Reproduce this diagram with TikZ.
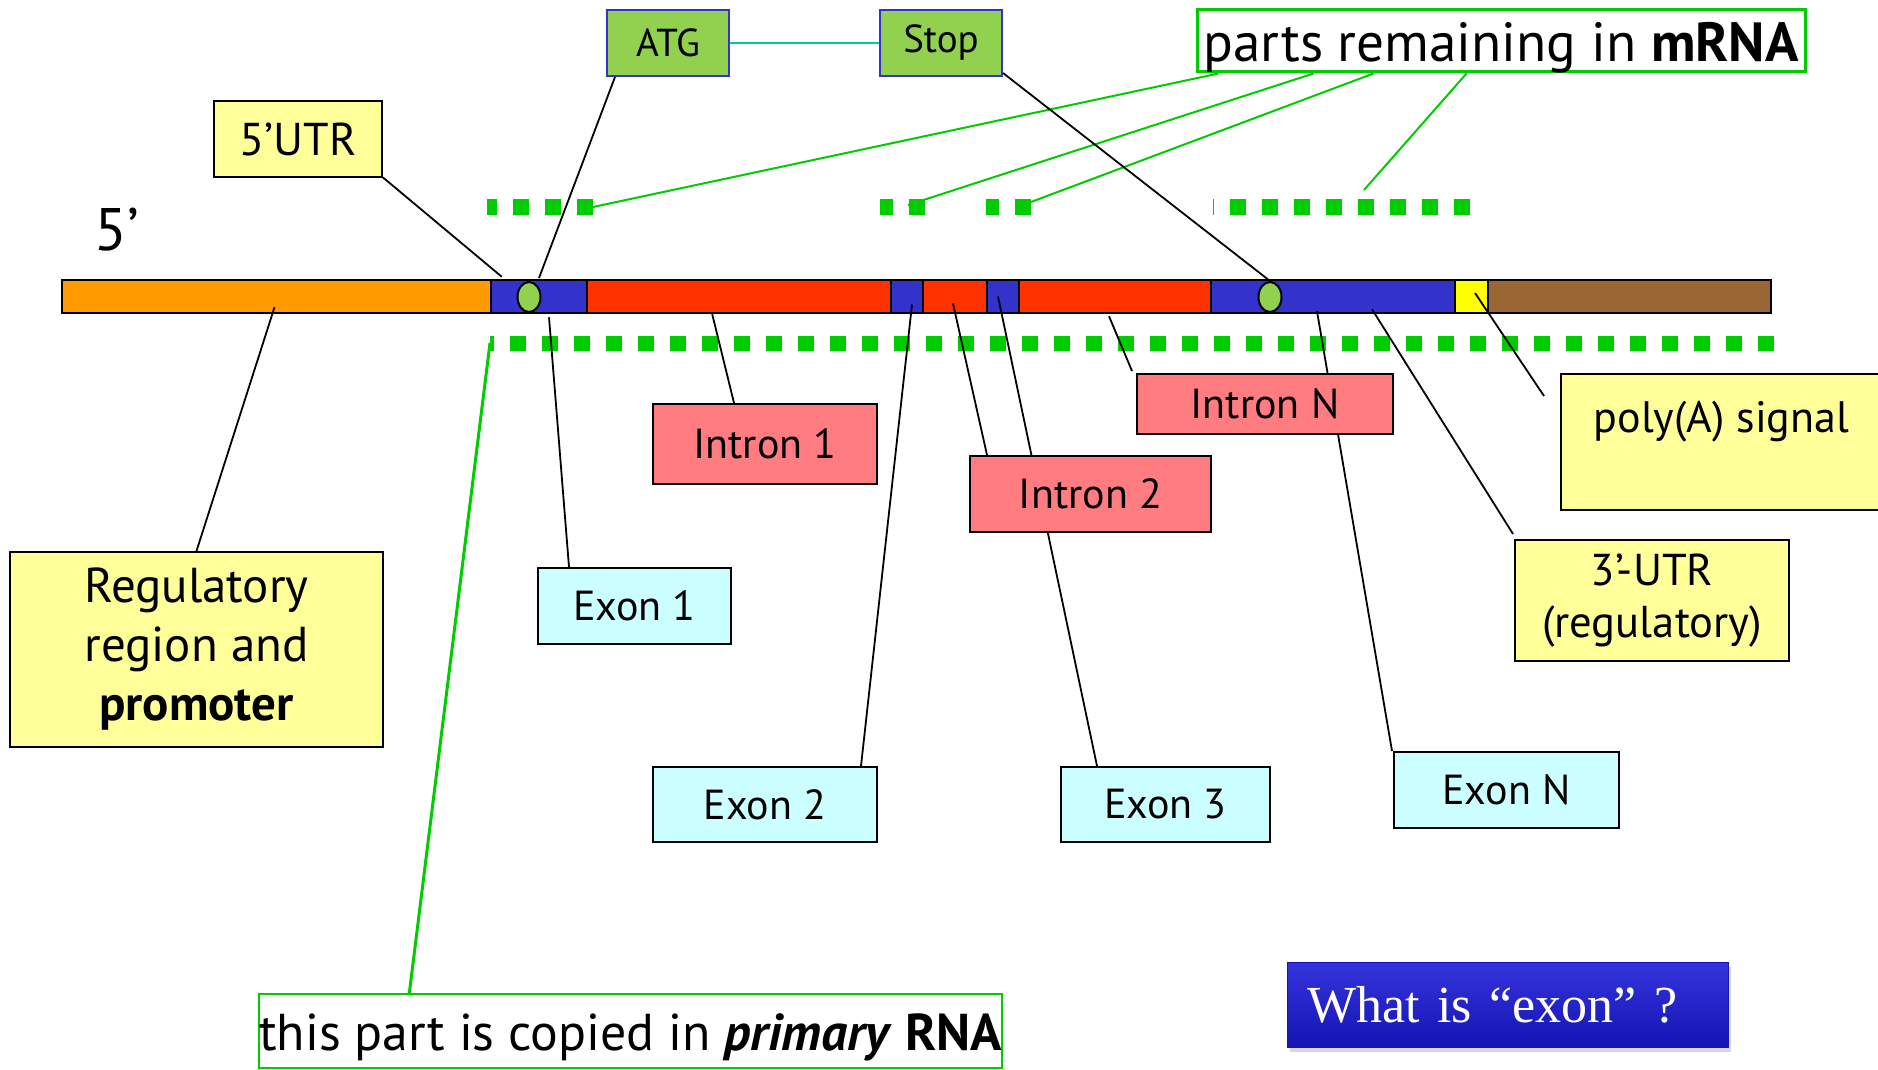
\documentclass[tikz,border=0pt]{standalone}
\usepackage{fontspec}
\setmainfont{PT Sans}
\newfontfamily\slidefont{Liberation Serif}
\usetikzlibrary{positioning,calc,shapes.geometric,shadows}
\definecolor{Promoter}{HTML}{FF9900}
\definecolor{ExonBlue}{HTML}{3333CC}
\definecolor{IntronRed}{HTML}{FF3300}
\definecolor{PolyA}{HTML}{FFFF00}
\definecolor{Tail}{HTML}{996633}
\definecolor{Start}{HTML}{92D050}
\definecolor{Keep}{HTML}{00CC00}
\definecolor{Note}{HTML}{FFFF99}
\definecolor{IntronBox}{HTML}{FF7C80}
\definecolor{ExonBox}{HTML}{CCFFFF}
\definecolor{Link}{HTML}{00CC99}
\definecolor{SlideTop}{HTML}{3434DC}
\definecolor{SlideBottom}{HTML}{1414B4}
\tikzset{gene layout/.style={%
    x=0.5pt,%
    y=-0.5pt,%
    every node/.style={%
        font=\fontsize{21}{25}\selectfont, inner sep=0pt%
    }%
}}
\tikzset{segment/.style={draw=black, line width=1.25pt, minimum height=16.5pt}}
\tikzset{label box/.style={draw=black, line width=1pt, rectangle, align=center}}
\tikzset{note box/.style={label box, fill=Note}}
\tikzset{exon box/.style={label box, fill=ExonBox}}
\tikzset{intron box/.style={label box, fill=IntronBox}}
\tikzset{codon box/.style={label box, draw=ExonBlue, fill=Start, font=\fontsize{19.5}{23}\selectfont}}
\tikzset{codon dot/.style={ellipse, draw=black, line width=1pt, fill=Start, minimum width=11.5pt, minimum height=15pt}}
\tikzset{pointer/.style={black, line width=0.9pt}}
\tikzset{kept/.style={Keep, line width=1pt}}
\tikzset{kept dashes/.style={Keep, line width=8pt, dash pattern=on 8pt off 8pt}}

\begin{document}
\begin{tikzpicture}[gene layout]
    \useasboundingbox (0,0) rectangle (1878,1070);

    \foreach \name/\from/\to/\col in {prom/62/491/Promoter, ex1/491/587/ExonBlue,
        in1/587/891/IntronRed, ex2/891/923/ExonBlue, in2/923/987/IntronRed,
        ex3/987/1019/ExonBlue, inN/1019/1211/IntronRed, exN/1211/1455/ExonBlue,
        pa/1455/1488/PolyA, tail/1488/1771/Tail} {
        \node[segment, fill=\col, minimum width={(\to-\from)*0.5pt}] (s\name) at ({(\from+\to)/2},296.5) {};
    }
    \node[codon dot] (ov1) at (529,297) {};
    \node[codon dot] (ov2) at (1270,297) {};

    \node[font=\fontsize{30}{34}\selectfont] (five) at (117,230) {5’};

    % parts kept in mRNA
    \foreach \g/\a/\b in {1/487/593, 2/880/925, 3/986/1031, 4/1213/1470} {
        \coordinate (g\g-a) at (\a,207);
        \coordinate (g\g-b) at (\b,207);
        \draw[kept dashes] (g\g-b) -- (g\g-a);
    }
    \coordinate (rnaL) at (490,343);
    \coordinate (rnaR) at (1774,343);
    \draw[kept dashes, line width=7.5pt] (rnaR) -- (rnaL);

    \node[codon box, minimum width=61pt, minimum height=33pt] (latg) at (668,43) {ATG};
    \node[codon box, minimum width=61pt, minimum height=33pt] (lstop) at (941,43) {Stop};
    \node[label box, draw=Keep, line width=1.5pt, minimum width=304pt, minimum height=31pt,
        text height=22pt, text depth=1pt, font=\fontsize{27.6}{31}\selectfont] (lmrna) at (1501,41)
        {parts remaining in \textbf{mRNA}};
    \node[note box, minimum width=84pt, minimum height=37.5pt, font=\fontsize{23}{27}\selectfont] (lutr5) at (298,139) {5’UTR};
    \node[note box, minimum width=186.5pt, minimum height=97.5pt, font=\fontsize{24.5}{29.5}\selectfont] (lreg) at (196.5,649.5)
        {Regulatory\\region and\\\textbf{promoter}};
    \node[exon box, minimum width=96.5pt, minimum height=38pt] (lex1) at (634.5,606) {Exon 1};
    \node[intron box, minimum width=112pt, minimum height=40pt] (lin1) at (765,444) {Intron 1};
    \node[exon box, minimum width=112pt, minimum height=37.5pt] (lex2) at (765,804.5) {Exon 2};
    \node[exon box, minimum width=104.5pt, minimum height=37.5pt] (lex3) at (1165.5,804.5) {Exon 3};
    \node[exon box, minimum width=112.5pt, minimum height=38pt] (lexN) at (1506.5,790) {Exon N};
    \node[note box, minimum width=137pt, minimum height=60.5pt, font=\fontsize{22.3}{26}\selectfont] (lutr3) at (1652,600.5)
        {3’-UTR\\(regulatory)};
    \node[note box, minimum width=160.5pt, minimum height=68pt, text height=16pt, text depth=26pt,
        font=\fontsize{22}{26}\selectfont] (lpolya) at (1721.5,442)
        {poly(A) signal};
    \node[label box, draw=Keep, minimum width=370.5pt, minimum height=37pt,
        text height=22pt, text depth=3pt, font=\fontsize{25.9}{29}\selectfont] (lcopy) at (630.5,1031)
        {this part is copied in \textbf{\textit{primary} RNA}};
    \node[rectangle, draw=SlideBottom, top color=SlideTop, bottom color=SlideBottom,
        drop shadow={opacity=0.3, shadow xshift=1.5pt, shadow yshift=-2.5pt},
        minimum width=220.5pt, minimum height=42.5pt, text width=200pt, align=left,
        text=white, font=\slidefont\fontsize{26}{30}\selectfont] (lwhat) at (1507.5,1004.5)
        {What is “exon” ?};

    \draw[kept] ([xshift=11.5pt]lmrna.south west) -- (g1-b);
    \draw[kept] ([xshift=59pt]lmrna.south west) -- ([shift={(-17,-2)}]g2-b);
    \draw[kept] ([xshift=89pt]lmrna.south west) -- ([shift={(0,-5)}]g3-b);
    \draw[kept] ([xshift=135.5pt]lmrna.south west) -- ([shift={(-106,-17)}]g4-b);
    \draw[kept, line width=1.5pt] ([xshift=75.5pt]lcopy.north west) -- (rnaL);

    \draw[Link, line width=1pt] (latg) -- (lstop);
    \draw[pointer] ([xshift=4.5pt]latg.south west) -- ([shift={(10,-3)}]ov1.north);
    \draw[pointer] ([yshift=2pt]lstop.south east) -- (ov2.north);
    \draw[pointer] (lreg.north) -- ([shift={(-2,-7)}]sprom.south);
    \draw[pointer] (lutr5.south east) -- ([shift={(12,-2)}]sex1.north west);
    \draw[pointer] ([xshift=16pt]lex1.north west) -- ([shift={(10,3)}]sex1.south);
    \draw[pointer] ([xshift=-15.5pt]lin1.north) -- ([shift={(-27,-1)}]sin1.south);
    \draw[pointer] ([xshift=-8.5pt]lex2.north east) -- ([shift={(5,8)}]sex2.center);
    \draw[pointer] ([xshift=18.5pt]lex3.north west) -- ([shift={(-5,0)}]sex3.center);
    \draw[pointer] ([xshift=-0.5pt]lexN.north west) -- ([shift={(-16,-3)}]sexN.south);
    \draw[pointer] ([shift={(-1,-5)}]lutr3.north west) -- ([shift={(39,-5)}]sexN.south);
    \draw[pointer] ([shift={(-16,23)}]lpolya.north west) -- ([shift={(3.5,-3.5)}]spa.center);

    % these two boxes sit over the exon 3 and exon N pointers
    \node[intron box, minimum width=120.5pt, minimum height=38pt] (lin2) at (1090.5,494) {Intron 2};
    \node[intron box, minimum width=128pt, minimum height=30pt] (linN) at (1265,404) {Intron N};
    \draw[pointer] ([xshift=9pt]lin2.north west) -- ([shift={(-2,7)}]sin2.center);
    \draw[pointer] ([shift={(-4,-2)}]linN.north west) -- ([shift={(-6,2)}]sinN.south);
\end{tikzpicture}
\end{document}
